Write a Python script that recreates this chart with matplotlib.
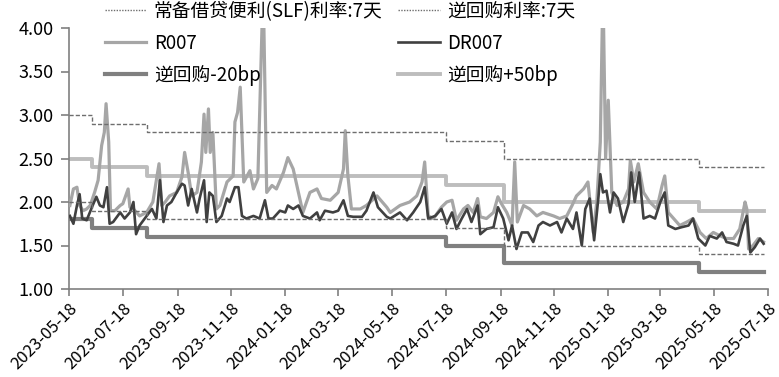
import matplotlib
matplotlib.use("Agg")
import matplotlib.pyplot as plt
import pandas as pd
from matplotlib.lines import Line2D

plt.rcParams['font.family'] = ['Noto Sans CJK SC', 'DejaVu Sans']
plt.rcParams['axes.unicode_minus'] = False

# ---------------- data ----------------
r007_dates = [
    "2023-05-19", "2023-05-23", "2023-05-27", "2023-05-30", "2023-06-03", "2023-06-07", "2023-06-11",
    "2023-06-16", "2023-06-20", "2023-06-24", "2023-06-27", "2023-06-29", "2023-07-02", "2023-07-04",
    "2023-07-09", "2023-07-15", "2023-07-18", "2023-07-24", "2023-07-26", "2023-07-30", "2023-08-06",
    "2023-08-14", "2023-08-21", "2023-08-28", "2023-08-31", "2023-09-04", "2023-09-09", "2023-09-17",
    "2023-09-23", "2023-09-26", "2023-09-30", "2023-10-04", "2023-10-10", "2023-10-15", "2023-10-18",
    "2023-10-20", "2023-10-23", "2023-10-25", "2023-10-28", "2023-11-01", "2023-11-05", "2023-11-13",
    "2023-11-20", "2023-11-22", "2023-11-25", "2023-11-28", "2023-12-02", "2023-12-09", "2023-12-13",
    "2023-12-18", "2023-12-24", "2023-12-28", "2024-01-03", "2024-01-08", "2024-01-16", "2024-01-21",
    "2024-01-27", "2024-02-02", "2024-02-07", "2024-02-15", "2024-02-23", "2024-02-28", "2024-03-09",
    "2024-03-18", "2024-03-24", "2024-03-26", "2024-03-29", "2024-04-02", "2024-04-12", "2024-04-19",
    "2024-05-01", "2024-05-12", "2024-05-16", "2024-05-27", "2024-06-07", "2024-06-15", "2024-06-21",
    "2024-06-24", "2024-06-28", "2024-07-04", "2024-07-13", "2024-07-19", "2024-07-25", "2024-07-30",
    "2024-08-07", "2024-08-12", "2024-08-18", "2024-08-23", "2024-08-26", "2024-09-02", "2024-09-10",
    "2024-09-15", "2024-09-19", "2024-09-25", "2024-10-01", "2024-10-04", "2024-10-07", "2024-10-14",
    "2024-10-21", "2024-10-29", "2024-11-05", "2024-11-17", "2024-11-24", "2024-12-02", "2024-12-08",
    "2024-12-13", "2024-12-21", "2024-12-26", "2025-01-01", "2025-01-05", "2025-01-09", "2025-01-12",
    "2025-01-15", "2025-01-18", "2025-01-22", "2025-01-28", "2025-02-04", "2025-02-10", "2025-02-12",
    "2025-02-16", "2025-02-21", "2025-02-27", "2025-03-06", "2025-03-14", "2025-03-20", "2025-03-23",
    "2025-03-27", "2025-04-02", "2025-04-09", "2025-04-17", "2025-04-24", "2025-05-02", "2025-05-09",
    "2025-05-17", "2025-05-25", "2025-06-01", "2025-06-09", "2025-06-16", "2025-06-22", "2025-06-24",
    "2025-06-26", "2025-07-01", "2025-07-07", "2025-07-13",
]
r007_values = [
    1.96, 2.15, 2.17, 1.96, 1.90, 1.92, 1.96,
    2.11, 2.25, 2.65, 2.80, 3.13, 2.69, 1.90,
    1.90, 1.96, 1.98, 2.15, 1.94, 1.92, 1.84,
    1.88, 2.00, 2.44, 1.96, 2.00, 2.07, 2.11,
    2.29, 2.57, 2.34, 2.07, 2.11, 2.46, 3.01,
    2.57, 3.07, 2.57, 2.80, 1.92, 1.96, 2.23,
    2.30, 2.92, 3.03, 3.32, 2.23, 2.36, 2.15,
    2.27, 4.50, 2.11, 2.19, 2.15, 2.34, 2.51,
    2.38, 2.11, 1.88, 2.11, 2.15, 2.04, 2.02,
    2.11, 2.38, 2.82, 2.30, 1.92, 1.92, 1.96,
    2.07, 1.94, 1.88, 1.96, 2.00, 2.07, 2.23,
    2.46, 1.84, 1.81, 1.94, 2.00, 2.02, 1.79,
    1.92, 1.96, 1.88, 2.04, 1.83, 1.81, 1.88,
    2.06, 1.98, 1.88, 1.73, 2.46, 1.77, 1.96,
    1.92, 1.84, 1.88, 1.84, 1.81, 1.84, 1.96,
    2.07, 2.15, 2.23, 1.65, 2.00, 2.69, 4.50,
    2.50, 3.17, 2.11, 1.96, 2.00, 2.15, 2.48,
    2.23, 2.44, 2.11, 2.00, 1.92, 2.19, 2.30,
    1.88, 1.81, 1.73, 1.77, 1.81, 1.65, 1.58,
    1.65, 1.61, 1.58, 1.58, 1.69, 2.00, 1.92,
    1.46, 1.50, 1.58, 1.54,
]

dr007_dates = [
    "2023-05-19", "2023-05-23", "2023-05-27", "2023-05-30", "2023-06-02", "2023-06-07", "2023-06-13",
    "2023-06-18", "2023-06-22", "2023-06-26", "2023-06-30", "2023-07-03", "2023-07-07", "2023-07-15",
    "2023-07-20", "2023-07-26", "2023-07-30", "2023-08-02", "2023-08-06", "2023-08-14", "2023-08-20",
    "2023-08-25", "2023-08-29", "2023-09-02", "2023-09-06", "2023-09-11", "2023-09-17", "2023-09-23",
    "2023-09-26", "2023-09-30", "2023-10-04", "2023-10-10", "2023-10-13", "2023-10-18", "2023-10-21",
    "2023-10-24", "2023-10-28", "2023-11-01", "2023-11-07", "2023-11-13", "2023-11-16", "2023-11-22",
    "2023-11-26", "2023-11-30", "2023-12-05", "2023-12-13", "2023-12-20", "2023-12-26", "2023-12-30",
    "2024-01-04", "2024-01-12", "2024-01-18", "2024-01-21", "2024-01-27", "2024-02-02", "2024-02-07",
    "2024-02-15", "2024-02-23", "2024-02-26", "2024-03-03", "2024-03-12", "2024-03-18", "2024-03-24",
    "2024-03-29", "2024-04-04", "2024-04-14", "2024-04-19", "2024-04-27", "2024-05-02", "2024-05-12",
    "2024-05-16", "2024-05-27", "2024-06-04", "2024-06-11", "2024-06-19", "2024-06-24", "2024-06-28",
    "2024-07-06", "2024-07-13", "2024-07-19", "2024-07-25", "2024-07-30", "2024-08-05", "2024-08-11",
    "2024-08-16", "2024-08-23", "2024-08-26", "2024-09-02", "2024-09-10", "2024-09-15", "2024-09-21",
    "2024-09-27", "2024-10-01", "2024-10-06", "2024-10-12", "2024-10-19", "2024-10-25", "2024-10-31",
    "2024-11-05", "2024-11-13", "2024-11-21", "2024-11-26", "2024-12-02", "2024-12-09", "2024-12-13",
    "2024-12-19", "2024-12-23", "2024-12-28", "2025-01-02", "2025-01-07", "2025-01-09", "2025-01-12",
    "2025-01-16", "2025-01-20", "2025-01-24", "2025-01-29", "2025-02-04", "2025-02-10", "2025-02-13",
    "2025-02-17", "2025-02-22", "2025-02-27", "2025-03-06", "2025-03-12", "2025-03-18", "2025-03-23",
    "2025-03-27", "2025-04-04", "2025-04-11", "2025-04-19", "2025-04-24", "2025-04-30", "2025-05-08",
    "2025-05-13", "2025-05-21", "2025-05-27", "2025-06-01", "2025-06-09", "2025-06-14", "2025-06-20",
    "2025-06-24", "2025-06-28", "2025-07-03", "2025-07-09", "2025-07-13",
]
dr007_values = [
    1.84, 1.75, 1.96, 2.09, 1.81, 1.79, 1.94,
    2.06, 1.96, 1.94, 2.17, 1.75, 1.77, 1.88,
    1.81, 1.88, 2.00, 1.63, 1.73, 1.84, 1.92,
    1.81, 2.25, 1.77, 1.96, 2.00, 2.11, 2.21,
    2.19, 1.96, 2.15, 1.88, 2.04, 2.25, 1.77,
    2.11, 2.07, 1.77, 1.84, 2.04, 2.00, 2.17,
    2.17, 1.84, 1.81, 1.84, 1.81, 2.02, 1.81,
    1.81, 1.90, 1.88, 1.96, 1.92, 1.96, 1.84,
    1.81, 1.88, 1.79, 1.90, 1.88, 1.90, 2.02,
    1.84, 1.83, 1.83, 1.90, 2.11, 1.94, 1.83,
    1.81, 1.88, 1.79, 1.88, 2.00, 2.17, 1.81,
    1.84, 1.92, 1.75, 1.88, 1.69, 1.81, 1.92,
    1.77, 1.96, 1.63, 1.69, 1.71, 1.94, 1.81,
    1.56, 1.73, 1.46, 1.65, 1.65, 1.54, 1.73,
    1.77, 1.73, 1.77, 1.65, 1.81, 1.69, 1.88,
    1.50, 1.92, 2.04, 1.56, 2.07, 2.32, 2.11,
    2.13, 1.88, 2.11, 2.04, 1.77, 1.98, 2.34,
    2.00, 2.34, 1.81, 1.84, 1.81, 2.00, 2.11,
    1.73, 1.69, 1.71, 1.73, 1.81, 1.58, 1.50,
    1.61, 1.58, 1.65, 1.54, 1.52, 1.50, 1.73,
    1.84, 1.42, 1.48, 1.58, 1.52,
]

# policy rate change dates (last entry = end of series)
policy_dates = ["2023-05-18", "2023-06-13", "2023-08-14", "2024-07-18", "2024-09-22", "2025-05-01", "2025-07-13"]
slf_rate   = [3.00, 2.90, 2.80, 2.70, 2.50, 2.40, 2.40]
repo_rate  = [2.00, 1.90, 1.80, 1.70, 1.50, 1.40, 1.40]
repo_m20   = [1.80, 1.70, 1.60, 1.50, 1.30, 1.20, 1.20]
repo_p50   = [2.50, 2.40, 2.30, 2.20, 2.00, 1.90, 1.90]

tick_labels = ["2023-05-18", "2023-07-18", "2023-09-18", "2023-11-18", "2024-01-18", "2024-03-18",
               "2024-05-18", "2024-07-18", "2024-09-18", "2024-11-18", "2025-01-18", "2025-03-18",
               "2025-05-18", "2025-07-18"]
y_ticks = [1.00, 1.50, 2.00, 2.50, 3.00, 3.50, 4.00]

labels = ["常备借贷便利(SLF)利率:7天", "逆回购利率:7天", "R007", "DR007", "逆回购-20bp", "逆回购+50bp"]

# ---------------- plot ----------------
W, H = 779, 377
fig = plt.figure(figsize=(W / 100, H / 100), dpi=100)
ax = fig.add_axes([69 / W, 1 - 289 / H, (768 - 69) / W, (289 - 28) / H])

pdts = pd.to_datetime(policy_dates)
dash = (0, (3, 1.5))
h_m20, = ax.plot(pdts, repo_m20, drawstyle="steps-post", color="#808080", lw=3.0, label=labels[4], zorder=2)
h_p50, = ax.plot(pdts, repo_p50, drawstyle="steps-post", color="#bdbdbd", lw=2.8, label=labels[5], zorder=2)
h_r, = ax.plot(pd.to_datetime(r007_dates), r007_values, color="#a6a6a6", lw=2.3, label=labels[2], zorder=3)
h_dr, = ax.plot(pd.to_datetime(dr007_dates), dr007_values, color="#404040", lw=1.9, label=labels[3], zorder=4)
h_slf, = ax.plot(pdts, slf_rate, drawstyle="steps-post", color="#6e6e6e", lw=1.0, ls=dash, label=labels[0], zorder=5)
h_rp, = ax.plot(pdts, repo_rate, drawstyle="steps-post", color="#6e6e6e", lw=1.0, ls=dash, label=labels[1], zorder=5)

ax.set_ylim(1.0, 4.0)
ax.set_xlim(pd.Timestamp(tick_labels[0]), pd.Timestamp(tick_labels[-1]))
ax.set_yticks(y_ticks)
ax.set_yticklabels([f"{v:.2f}" for v in y_ticks])
ax.set_xticks(pd.to_datetime(tick_labels))
ax.set_xticklabels(tick_labels, rotation=45, ha="right", rotation_mode="anchor")

for s in ["top", "right"]:
    ax.spines[s].set_visible(False)
for s in ["left", "bottom"]:
    ax.spines[s].set_color("#808080")
    ax.spines[s].set_linewidth(1.2)
ax.tick_params(axis="both", colors="#808080", labelcolor="black", width=1.2, direction="out")
ax.tick_params(axis="y", length=6, pad=5, labelsize=13)
ax.tick_params(axis="x", length=5, pad=3, labelsize=12)

# legend: column-major order for ncol=2
handles = [h_slf, h_r, h_m20, h_rp, h_dr, h_p50]
leg_handles = []
for h in handles:
    lh = Line2D([0], [0], color=h.get_color(), lw=h.get_linewidth(),
                ls=(0, (1, 1)) if h in (h_slf, h_rp) else "-")
    leg_handles.append(lh)
leg = fig.legend(leg_handles, [h.get_label() for h in handles], ncol=2, loc="upper left",
                 bbox_to_anchor=(105 / W, 1 - 1 / H), frameon=False, fontsize=13.5,
                 handlelength=2.2, handletextpad=0.4, columnspacing=0.85,
                 labelspacing=0.58, borderpad=0, borderaxespad=0)

fig.savefig("out.png", dpi=100)
